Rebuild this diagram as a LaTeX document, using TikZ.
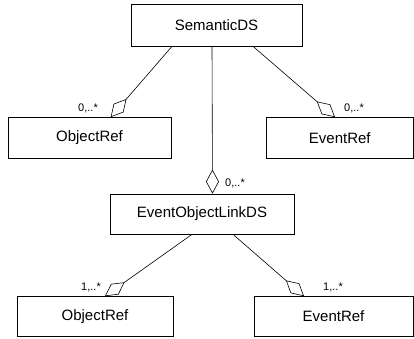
\documentclass[tikz,border=0pt]{standalone}
\usepackage{fontspec}
\setmainfont{Liberation Sans}
\usetikzlibrary{arrows.meta}
\begin{document}
\begin{tikzpicture}[x=1pt,y=1pt,
  cls/.style={draw, line width=0.7pt, inner sep=0pt, font=\fontsize{15}{18}\selectfont},
  agg/.style={draw, line width=0.6pt, -{Diamond[open, length=24pt, width=13pt, line width=0.6pt]}},
  mult/.style={inner sep=0pt, font=\fontsize{11}{13}\selectfont}]
\useasboundingbox (0,0) rectangle (414,-339);
\node[cls, minimum width=171pt, minimum height=42pt] (sem) at (216.5,-25) {SemanticDS};
\node[cls, minimum width=163pt, minimum height=40.5pt] (obj1) at (89.5,-137.75) {ObjectRef};
\node[cls, minimum width=146.5pt, minimum height=40.5pt] (ev1) at (339.75,-137.75) {EventRef};
\node[cls, minimum width=184pt, minimum height=40pt] (eol) at (202,-214) {EventObjectLinkDS};
\node[cls, minimum width=156pt, minimum height=40pt] (obj2) at (95,-316.5) {ObjectRef};
\node[cls, minimum width=159pt, minimum height=40pt] (ev2) at (333.5,-316.5) {EventRef};
\draw[agg] ([xshift=-44.5pt]sem.south) -- ([xshift=21.2pt]obj1.north);
\draw[agg] ([xshift=36.5pt]sem.south) -- ([xshift=-4.75pt]ev1.north);
\draw[agg] ([xshift=-4.5pt]sem.south) -- ([xshift=10.5pt]eol.north);
\draw[agg] ([xshift=-10pt]eol.south) -- ([xshift=10pt]obj2.north);
\draw[agg] ([xshift=31pt]eol.south) -- ([xshift=-29.5pt]ev2.north);
\node[mult] (m1) at (88,-108) {0,..*};
\node[mult] (m2) at (354,-108) {0,..*};
\node[mult] (m3) at (235,-183) {0,..*};
\node[mult] (m4) at (91,-287.5) {1,..*};
\node[mult] (m5) at (333,-287.5) {1,..*};
\end{tikzpicture}
\end{document}
